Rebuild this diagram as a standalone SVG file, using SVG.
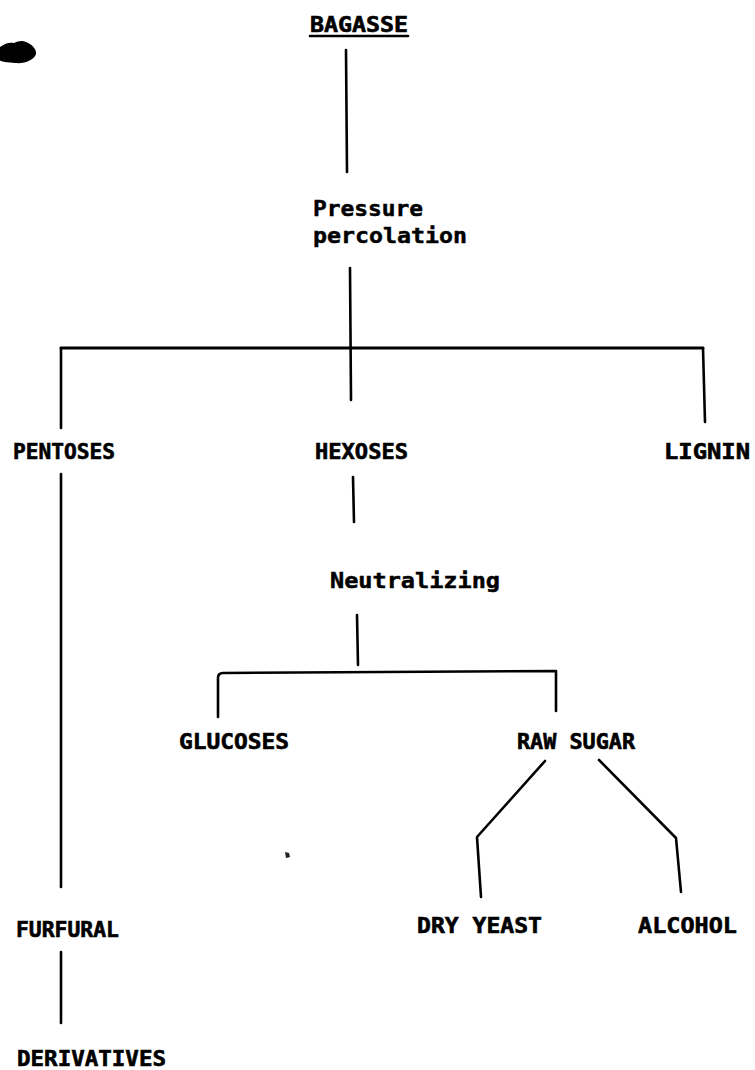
<svg xmlns="http://www.w3.org/2000/svg" width="755" height="1070" viewBox="0 0 755 1070">
  <style>
    .lbl { font-family: "DejaVu Sans Mono", "Liberation Mono", monospace; font-weight: bold; font-size: 21px; fill: #000; stroke: #000; stroke-width: 0.6; }
    .stp { font-family: "DejaVu Sans Mono", "Liberation Mono", monospace; font-weight: bold; font-size: 22px; fill: #000; stroke: #000; stroke-width: 0.5; }
    .ln { fill: none; stroke: #000; stroke-width: 2.6; stroke-linecap: round; stroke-linejoin: round; }
  </style>
  <rect width="755" height="1070" fill="#fff"/>

  <!-- ink blot and speck -->
  <path d="M0,47 C5,43 10,42 14,43 C18,41 22,40 26,42 C32,44 37,50 36,54 C34,60 25,64 15,63 C8,62 0,62 0,60 Z" fill="#000"/>
  <path d="M285,852 L289,853 L290,857 L286,858 Z" fill="#222"/>

  <g id="connectors">
    <path class="ln" d="M346,50 L347,172"/>
    <path class="ln" d="M350,268 L351,400"/>
    <path class="ln" d="M61,348 L703,348" style="stroke-width:3"/>
    <path class="ln" d="M61,348 L61,428"/>
    <path class="ln" d="M703,348 L705,422"/>
    <path class="ln" d="M353,477 L354,522"/>
    <path class="ln" d="M357,615 L358,665"/>
    <path class="ln" d="M218,717 L218,678 Q218,673 223,673 L556,671 L556,711"/>
    <path class="ln" d="M61,474 L61,887"/>
    <path class="ln" d="M61,952 L61,1023"/>
    <path class="ln" d="M545,761 L477,837 L481,897"/>
    <path class="ln" d="M599,760 L676,838 L681,892"/>
  </g>

  <g id="bagasse">
    <text class="lbl" x="310" y="32" textLength="98" lengthAdjust="spacingAndGlyphs">BAGASSE</text>
    <path class="ln" d="M310,36 L408,36"/>
  </g>
  <g id="pressure-percolation">
    <text class="stp" x="313" y="216" textLength="110" lengthAdjust="spacingAndGlyphs">Pressure</text>
    <text class="stp" x="313" y="243" textLength="154" lengthAdjust="spacingAndGlyphs">percolation</text>
  </g>
  <g id="pentoses">
    <text class="lbl" x="13" y="459" textLength="102" lengthAdjust="spacingAndGlyphs">PENTOSES</text>
  </g>
  <g id="hexoses">
    <text class="lbl" x="315" y="459" textLength="93" lengthAdjust="spacingAndGlyphs">HEXOSES</text>
  </g>
  <g id="lignin">
    <text class="lbl" x="664" y="459" textLength="86" lengthAdjust="spacingAndGlyphs">LIGNIN</text>
  </g>
  <g id="neutralizing">
    <text class="stp" x="330" y="588" textLength="170" lengthAdjust="spacingAndGlyphs">Neutralizing</text>
  </g>
  <g id="glucoses">
    <text class="lbl" x="179" y="749" textLength="110" lengthAdjust="spacingAndGlyphs">GLUCOSES</text>
  </g>
  <g id="raw-sugar">
    <text class="lbl" x="517" y="749" textLength="118" lengthAdjust="spacingAndGlyphs" xml:space="preserve">RAW SUGAR</text>
  </g>
  <g id="dry-yeast">
    <text class="lbl" x="417" y="933" textLength="125" lengthAdjust="spacingAndGlyphs" xml:space="preserve">DRY YEAST</text>
  </g>
  <g id="alcohol">
    <text class="lbl" x="638" y="933" textLength="99" lengthAdjust="spacingAndGlyphs">ALCOHOL</text>
  </g>
  <g id="furfural">
    <text class="lbl" x="16" y="937" textLength="103" lengthAdjust="spacingAndGlyphs">FURFURAL</text>
  </g>
  <g id="derivatives">
    <text class="lbl" x="17" y="1066" textLength="149" lengthAdjust="spacingAndGlyphs">DERIVATIVES</text>
  </g>
</svg>
